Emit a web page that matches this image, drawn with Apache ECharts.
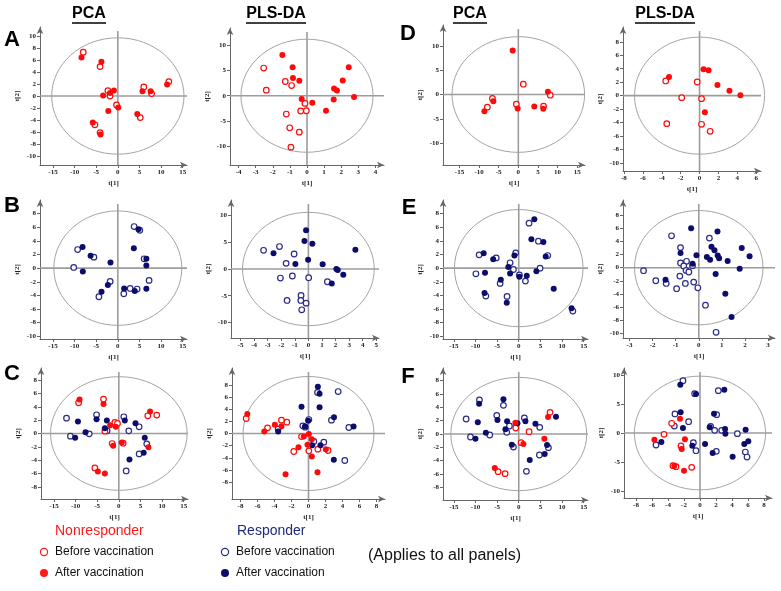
<!DOCTYPE html>
<html><head><meta charset="utf-8">
<script src="https://cdn.jsdelivr.net/npm/echarts@6/dist/echarts.min.js"></script>
<style>html,body{margin:0;padding:0;background:#fff}#c{width:781px;height:591px}</style>
</head><body><div id="c"></div>
<script>
// ---------- tick labels ----------
const pcaXTicks = [-15,-10,-5,0,5,10,15];
const aPcaYTicks = [-10,-8,-6,-4,-2,0,2,4,6,8,10];
const aPlsXTicks = [-4,-3,-2,-1,0,1,2,3,4];
const aPlsYTicks = [-10,-5,0,5,10];
const dPcaYTicks = [-10,-5,0,5,10];
const dPlsXTicks = [-8,-6,-4,-2,0,2,4,6];
const dPlsYTicks = [-10,-8,-6,-4,-2,0,2,4,6,8];
const bPcaYTicks = [-10,-8,-6,-4,-2,0,2,4,6,8];
const bPlsXTicks = [-5,-4,-3,-2,-1,0,1,2,3,4,5];
const bPlsYTicks = [-10,-5,0,5,10];
const ePcaYTicks = [-10,-8,-6,-4,-2,0,2,4,6,8];
const ePlsXTicks = [-3,-2,-1,0,1,2,3];
const ePlsYTicks = [-10,-8,-6,-4,-2,0,2,4,6,8];
const cPcaYTicks = [-8,-6,-4,-2,0,2,4,6,8];
const cPlsXTicks = [-10,-8,-6,-4,-2,0,2,4,6,8];
const cPlsYTicks = [-8,-6,-4,-2,0,2,4,6,8];
const fPcaYTicks = [-8,-6,-4,-2,0,2,4,6,8];
const fPlsXTicks = [-8,-6,-4,-2,0,2,4,6,8];
const fPlsYTicks = [-10,-5,0,5,10];

// ---------- ellipse radii [t1, t2] ----------
const aPcaEllipse = [15.3, 9.7];
const aPlsEllipse = [3.86, 11.1];
const dPcaEllipse = [16.9, 11.9];
const dPlsEllipse = [6.88, 8.7];
const bPcaEllipse = [14.8, 8.4];
const bPlsEllipse = [4.85, 10.6];
const ePcaEllipse = [14.85, 8.6];
const ePlsEllipse = [2.78, 8.7];
const cPcaEllipse = [15.8, 8.5];
const cPlsEllipse = [7.7, 9.4];
const fPcaEllipse = [15.7, 8.5];
const fPlsEllipse = [8.2, 9.8];

// ---------- A ----------
const aPcaNonAfter = [[-8.4,6.4],[-3.8,5.7],[-3.4,0.1],[-1.8,0.5],[-0.9,0.9],[-2.2,-2.5],[0.1,-1.9],[-5.8,-4.4],[-4.0,-6.4],[4.5,-3.0],[5.7,0.8],[7.6,0.8],[11.4,1.9]];
const aPcaNonBefore = [[-8.0,7.3],[-4.1,4.9],[-2.3,0.9],[-1.8,0.0],[-0.3,-1.5],[-5.3,-4.8],[-4.1,-6.1],[5.2,-3.6],[6.0,1.5],[7.8,0.4],[11.8,2.4]];
const aPlsNonAfter = [[-1.44,8.0],[-0.84,5.6],[-0.82,3.5],[-0.45,2.95],[-0.31,-0.66],[0.31,-1.38],[1.11,-2.95],[1.56,-0.72],[1.58,1.44],[1.75,1.05],[2.09,3.0],[2.44,5.6],[2.75,-0.26]];
const aPlsNonBefore = [[-2.53,5.44],[-2.38,1.1],[-1.27,2.8],[-0.9,2.0],[-0.12,-1.5],[-0.04,-2.95],[-0.37,-3.0],[-1.21,-3.6],[-1.01,-6.3],[-0.45,-7.15],[-0.94,-10.1]];
// ---------- D ----------
const dPcaNonAfter = [[-1.44,9.04],[-8.64,-3.42],[-6.36,-1.37],[-0.17,-2.88],[4.07,-2.47],[6.36,-2.95],[7.54,0.55]];
const dPcaNonBefore = [[-6.6,-0.82],[-7.9,-2.6],[1.27,2.12],[-0.5,-1.99],[6.44,-2.4],[8.14,-0.14]];
const dPlsNonAfter = [[-3.23,2.77],[0.42,3.91],[0.95,3.76],[1.89,1.58],[3.16,0.74],[4.32,0.05],[0.56,-2.48]];
const dPlsNonBefore = [[-3.58,2.18],[-0.25,2.03],[-1.89,-0.3],[0.21,-0.45],[-3.47,-4.16],[0.21,-4.26],[1.12,-5.3]];
// ---------- B ----------
const bPcaResAfter = [[-8.15,3.12],[-6.3,1.8],[-1.7,0.83],[-8.1,-0.49],[-2.3,-2.49],[-3.77,-3.46],[3.7,2.93],[4.77,5.7],[6.6,1.37],[6.6,0.39],[6.6,-3.02],[1.46,-2.98],[3.92,-3.37]];
const bPcaResBefore = [[-9.3,2.73],[-10.2,0.1],[-5.54,1.61],[-1.77,-1.95],[-4.38,-4.2],[3.77,6.1],[5.08,5.56],[6.08,1.37],[7.23,-1.8],[1.38,-3.76],[2.85,-2.98],[4.46,-3.07]];
const bPlsResAfter = [[-0.17,7.25],[-0.29,5.25],[0.29,4.7],[-2.57,2.94],[-0.96,0.94],[-0.02,1.75],[1.05,0.87],[2.06,0],[2.16,-0.2],[2.57,-1.06],[1.72,-2.7],[3.46,3.6]];
const bPlsResBefore = [[-3.3,3.5],[-2.13,4.2],[-1.64,1.06],[-1.05,2.8],[-2.06,-1.69],[-1.18,-1.31],[0.02,-1.63],[1.4,-2.38],[-1.57,-5.88],[-0.54,-4.94],[-0.56,-5.88],[-0.17,-6.38],[-0.49,-7.63]];
// ---------- E ----------
const ePcaResAfter = [[3.6,7.17],[2.92,4.24],[5.69,3.85],[6.23,1.71],[-8.1,2.2],[-5.9,1.3],[-1.0,1.85],[-2.4,0.15],[-2.0,-0.78],[-7.8,-0.68],[0.15,-1.27],[1.85,-1.12],[4.08,-0.44],[-4.15,-1.7],[-7.9,-3.66],[-2.77,-5.07],[8.08,-3.02],[12.2,-5.9]];
const ePcaResBefore = [[2.38,6.6],[4.54,3.95],[6.7,1.85],[-9.15,1.95],[-5.2,1.5],[-0.7,2.24],[-2.0,0.78],[-1.23,-0.2],[-9.9,-0.83],[0.15,-1.0],[1.54,-1.9],[4.92,0],[-4.3,-2.24],[-7.6,-4.1],[-2.7,-4.15],[12.5,-6.3]];
const ePlsResAfter = [[-0.33,6.0],[0.81,5.5],[0.55,3.2],[0.68,2.65],[-0.79,2.24],[-0.1,1.89],[0.35,1.63],[0.49,1.22],[0.82,1.84],[0.88,1.43],[1.25,1.02],[1.86,3.0],[-0.27,0.61],[1.77,-0.15],[0.73,-0.97],[-1.44,-1.84],[1.15,-3.98],[2.2,1.73],[1.42,-7.5]];
const ePlsResBefore = [[-1.18,4.85],[0.46,4.5],[-0.79,3.06],[-0.53,0.97],[-0.79,0.71],[-0.65,0.26],[-0.55,-0.41],[-0.43,-0.66],[-0.82,-1.28],[-0.27,0.31],[-1.86,-1.99],[-1.41,-2.4],[-0.58,-2.4],[-0.96,-3.2],[-0.22,-2.19],[-0.04,-3.06],[-2.39,-0.46],[0.29,-5.71],[0.75,-9.83]];
// ---------- C ----------
const cPcaNonAfter = [[-9.08,5.1],[-3.54,4.4],[-2.0,1.25],[-0.69,1.0],[-1.31,-1.85],[0.69,-1.35],[7.23,3.3],[6.85,-2.05],[-4.85,-5.7],[-3.23,-6.0]];
const cPcaNonBefore = [[-9.3,4.6],[-3.54,5.15],[-3.23,0.35],[-0.92,1.65],[-0.31,1.5],[-1.54,-1.5],[1.0,-1.45],[6.7,2.65],[8.77,2.75],[-5.54,-5.15]];
const cPcaResAfter = [[-9.46,1.8],[-10.1,-0.65],[-7.7,0.2],[-5.15,2.15],[-2.77,1.95],[-3.23,0.8],[1.38,1.95],[3.85,1.55],[6.0,-0.65],[2.46,-3.9],[5.75,-2.88]];
const cPcaResBefore = [[-12.1,2.3],[-11.2,-0.4],[-6.85,-0.05],[-5.15,2.8],[-2.7,0.4],[1.15,2.5],[2.3,0.4],[4.7,1.0],[6.46,-1.55],[4.7,-3.05],[1.7,-5.6]];
const cPlsNonAfter = [[-7.2,3.2],[-5.2,0.33],[-3.96,1.43],[-3.18,1.2],[-0.55,-0.5],[0.04,-0.1],[0.39,-0.93],[-0.12,-1.87],[-1.18,-2.25],[2.04,-2.58],[0.39,-3.8],[1.06,-6.4],[-2.7,-6.7]];
const cPlsNonBefore = [[-7.33,2.47],[-4.82,0.93],[-3.18,2.2],[-2.55,1.87],[-0.82,-0.5],[-1.73,-2.97],[0.04,-2.86],[1.1,-2.58],[2.3,-2.8]];
const cPlsResAfter = [[-3.57,0.33],[-0.82,4.4],[-0.04,2.1],[1.1,7.7],[1.3,6.54],[1.3,4.34],[3.0,2.7],[-0.39,1.15],[5.3,1.15],[0.43,-1.92],[1.41,-1.92],[2.98,-4.34]];
const cPlsResBefore = [[-3.57,0.77],[-0.67,1.26],[-0.39,1.04],[0.04,2.3],[1.06,6.76],[3.49,6.92],[2.7,2.2],[4.75,0.99],[0.63,-1.32],[1.8,-1.43],[4.27,-4.45]];
// ---------- F ----------
const fPcaResAfter = [[-9.15,4.55],[-3.54,5.2],[-9.46,1.75],[-4.92,2.1],[-2.69,1.9],[-3.08,0.7],[-0.3,1.6],[1.54,1.9],[3.85,1.55],[-7.6,0.2],[-10.0,-0.7],[-1.6,-1.6],[6.54,-1.65],[6.0,-3.0],[2.54,-3.9],[8.6,2.6]];
const fPcaResBefore = [[-9.08,5.1],[-3.54,4.3],[-12.15,2.25],[-5.08,2.8],[-2.15,1.2],[-2.77,0.25],[-11.15,-0.45],[-6.7,-0.15],[-1.23,-1.95],[1.3,2.4],[4.85,1.0],[6.85,-2.05],[4.77,-3.15],[1.77,-5.6]];
const fPcaNonAfter = [[-0.77,1.7],[1.08,-1.5],[5.92,-0.7],[6.77,2.55],[-5.54,-5.1]];
const fPcaNonBefore = [[-0.69,0.9],[0.54,-1.3],[2.38,0.35],[7.23,3.25],[-4.77,-5.65],[-3.15,-5.95]];
const fPlsResAfter = [[-2.46,8.33],[-0.5,6.72],[3.04,7.47],[-2.42,3.56],[1.75,3.33],[-2.13,0.86],[-4.83,-1.55],[-0.96,-2.18],[0.63,-1.9],[1.58,-3.45],[3.13,0.69],[3.17,-0.11],[1.21,0.98],[4.08,-4.08],[5.54,-1.9],[5.7,0.57],[6.04,-1.44]];
const fPlsResBefore = [[-2.13,9.0],[-0.67,6.78],[2.29,7.3],[-3.13,3.28],[-3.21,1.2],[-1.42,1.95],[2.08,3.16],[-5.5,-2.07],[-0.83,-1.67],[-0.5,-3.05],[1.33,1.15],[1.83,0.46],[2.71,0.46],[4.67,-0.11],[2.04,-3.16],[5.67,-3.28],[5.88,-4.14]];
const fPlsNonAfter = [[-2.5,2.47],[-5.7,-1.15],[-1.88,-1.09],[-2.29,-2.76],[-3.21,-5.63],[-2.0,-6.5]];
const fPlsNonBefore = [[-3.54,1.67],[-4.5,-0.23],[-2.38,-2.24],[-3.0,-5.8],[-3.38,-5.63],[-1.04,-5.92]];

// ---------- styles ----------
const RED = '#ff0a0a';
const NAVY = '#0c0c6c';
const NAVY_OPEN = '#2a2a8a';

// ---------- layout (pixels) ----------
const panels = [
  {rect:[40,27,147,138],  x:[-18,16],   y:[-11.5,11.5], xt:pcaXTicks,  yt:aPcaYTicks, ell:aPcaEllipse, nb:aPcaNonBefore, na:aPcaNonAfter},
  {rect:[230,28,154,137], x:[-4.5,4.5], y:[-13.6,13.3], xt:aPlsXTicks, yt:aPlsYTicks, ell:aPlsEllipse, nb:aPlsNonBefore, na:aPlsNonAfter},
  {rect:[443,25,142,140], x:[-19.2,17], y:[-14.5,14.3], xt:pcaXTicks,  yt:dPcaYTicks, ell:dPcaEllipse, nb:dPcaNonBefore, na:dPcaNonAfter},
  {rect:[623,27,138,144], x:[-8.1,6.5], y:[-11.2,10.2], xt:dPlsXTicks, yt:dPlsYTicks, ell:dPlsEllipse, nb:dPlsNonBefore, na:dPlsNonAfter},
  {rect:[40,200,147,139], x:[-18,16],   y:[-10.4,10],   xt:pcaXTicks,  yt:bPcaYTicks, ell:bPcaEllipse, rb:bPcaResBefore, ra:bPcaResAfter},
  {rect:[231,200,148,138],x:[-5.7,5.2], y:[-12.9,12.9], xt:bPlsXTicks, yt:bPlsYTicks, ell:bPlsEllipse, rb:bPlsResBefore, ra:bPlsResAfter},
  {rect:[443,200,145,139],x:[-17.5,16], y:[-10.4,10],   xt:pcaXTicks,  yt:ePcaYTicks, ell:ePcaEllipse, rb:ePcaResBefore, ra:ePcaResAfter},
  {rect:[623,200,152,138],x:[-3.28,3.3],y:[-10.7,10.3], xt:ePlsXTicks, yt:ePlsYTicks, ell:ePlsEllipse, rb:ePlsResBefore, ra:ePlsResAfter},
  {rect:[41,368,147,131], x:[-18,16],   y:[-9.8,9.8],   xt:pcaXTicks,  yt:cPcaYTicks, ell:cPcaEllipse, nb:cPcaNonBefore, na:cPcaNonAfter, rb:cPcaResBefore, ra:cPcaResAfter},
  {rect:[232,368,153,131],x:[-9,9],     y:[-10.8,10.8], xt:cPlsXTicks, yt:cPlsYTicks, ell:cPlsEllipse, nb:cPlsNonBefore, na:cPlsNonAfter, rb:cPlsResBefore, ra:cPlsResAfter},
  {rect:[443,368,145,132],x:[-17.5,16], y:[-9.9,9.9],   xt:pcaXTicks,  yt:fPcaYTicks, ell:fPcaEllipse, nb:fPcaNonBefore, na:fPcaNonAfter, rb:fPcaResBefore, ra:fPcaResAfter},
  {rect:[624,368,148,130],x:[-9.5,9],   y:[-11.2,11.2], xt:fPlsXTicks, yt:fPlsYTicks, ell:fPlsEllipse, nb:fPlsNonBefore, na:fPlsNonAfter, rb:fPlsResBefore, ra:fPlsResAfter}
];

const labelFont = {fontFamily:'Liberation Serif', fontWeight:'bold', fontSize:7, color:'#222'};
const grids = [], xAxes = [], yAxes = [], series = [];

function frame(ell){
  return function(params, api){
    const cs = params.coordSys;
    const c = api.coord([0,0]);
    const s = api.size([ell[0], ell[1]]);
    return {type:'group', children:[
      {type:'line', shape:{x1:cs.x, y1:c[1], x2:cs.x+cs.width, y2:c[1]}, style:{stroke:'#9c9c9c', lineWidth:1.6}},
      {type:'line', shape:{x1:c[0], y1:cs.y+4, x2:c[0], y2:cs.y+cs.height}, style:{stroke:'#9c9c9c', lineWidth:1.6}},
      {type:'ellipse', shape:{cx:c[0], cy:c[1], rx:s[0], ry:s[1]}, style:{fill:'none', stroke:'#a4a4a4', lineWidth:1}}
    ]};
  };
}
function sc(data, gi, color, filled){
  return {type:'scatter', xAxisIndex:gi, yAxisIndex:gi, data:data, symbol:'circle',
    symbolSize: filled ? 6 : 5.6, silent:true, z:3,
    itemStyle: filled ? {color:color, opacity:1} : {color:'#ffffff', borderColor:color, borderWidth:1.2, opacity:1}};
}

panels.forEach((p, i) => {
  grids.push({left:p.rect[0], top:p.rect[1], width:p.rect[2], height:p.rect[3], containLabel:false});
  const axisLine = {onZero:false, symbol:['none','arrow'], symbolSize:[5,7], lineStyle:{color:'#666', width:1}};
  xAxes.push({gridIndex:i, type:'value', min:p.x[0], max:p.x[1],
    axisLine:axisLine, splitLine:{show:false},
    axisTick:{customValues:p.xt, length:3, lineStyle:{color:'#666'}},
    axisLabel:Object.assign({customValues:p.xt, margin:4}, labelFont),
    name:'t[1]', nameLocation:'middle', nameGap:15, nameTextStyle:labelFont});
  yAxes.push({gridIndex:i, type:'value', min:p.y[0], max:p.y[1],
    axisLine:axisLine, splitLine:{show:false},
    axisTick:{customValues:p.yt, length:3, lineStyle:{color:'#666'}},
    axisLabel:Object.assign({customValues:p.yt, margin:4}, labelFont),
    name:'t[2]', nameLocation:'middle', nameGap:19, nameRotate:90, nameTextStyle:labelFont});
  series.push({type:'custom', xAxisIndex:i, yAxisIndex:i, data:[[0,0]], renderItem:frame(p.ell), silent:true, z:1, clip:false});
  if (p.rb) series.push(sc(p.rb, i, NAVY_OPEN, false));
  if (p.nb) series.push(sc(p.nb, i, RED, false));
  if (p.ra) series.push(sc(p.ra, i, NAVY, true));
  if (p.na) series.push(sc(p.na, i, RED, true));
});

function title(txt, cx, y, w){
  return {type:'group', children:[
    {type:'text', x:cx, y:y, style:{text:txt, font:'bold 16px Arial', fill:'#000', align:'center', verticalAlign:'middle'}},
    {type:'line', shape:{x1:cx-w/2, y1:y+9, x2:cx+w/2, y2:y+9}, style:{stroke:'#000', lineWidth:1.4}}
  ]};
}
function letter(txt, x, y){
  return {type:'text', x:x, y:y, style:{text:txt, font:'bold 22px Arial', fill:'#000', align:'center', verticalAlign:'middle'}};
}
const graphics = [
  title('PCA', 89, 14, 34), title('PLS-DA', 276, 14, 60), title('PCA', 470, 14, 34), title('PLS-DA', 665, 14, 60),
  letter('A', 12, 40), letter('B', 12, 206), letter('C', 12, 374),
  letter('D', 408, 34), letter('E', 409, 208), letter('F', 408, 377),
  {type:'text', x:55, y:531, style:{text:'Nonresponder', font:'14px Arial', fill:'#ff1a1a', verticalAlign:'middle'}},
  {type:'circle', shape:{cx:44, cy:552, r:3.6}, style:{fill:'#fff', stroke:'#ff1a1a', lineWidth:1.2}},
  {type:'text', x:55, y:552, style:{text:'Before vaccination', font:'12px Arial', fill:'#111', verticalAlign:'middle'}},
  {type:'circle', shape:{cx:44, cy:573, r:4}, style:{fill:'#ff1a1a'}},
  {type:'text', x:55, y:573, style:{text:'After vaccination', font:'12px Arial', fill:'#111', verticalAlign:'middle'}},
  {type:'text', x:237, y:531, style:{text:'Responder', font:'14px Arial', fill:'#1f2a7a', verticalAlign:'middle'}},
  {type:'circle', shape:{cx:225, cy:552, r:3.6}, style:{fill:'#fff', stroke:NAVY_OPEN, lineWidth:1.2}},
  {type:'text', x:236, y:552, style:{text:'Before vaccination', font:'12px Arial', fill:'#111', verticalAlign:'middle'}},
  {type:'circle', shape:{cx:225, cy:573, r:4}, style:{fill:NAVY}},
  {type:'text', x:236, y:573, style:{text:'After vaccination', font:'12px Arial', fill:'#111', verticalAlign:'middle'}},
  {type:'text', x:368, y:556, style:{text:'(Applies to all panels)', font:'16px Arial', fill:'#111', verticalAlign:'middle'}}
];

const chart = echarts.init(document.getElementById('c'), null, {renderer:'canvas'});
chart.setOption({animation:false, backgroundColor:'#fff', grid:grids, xAxis:xAxes, yAxis:yAxes, series:series, graphic:graphics});
</script></body></html>
